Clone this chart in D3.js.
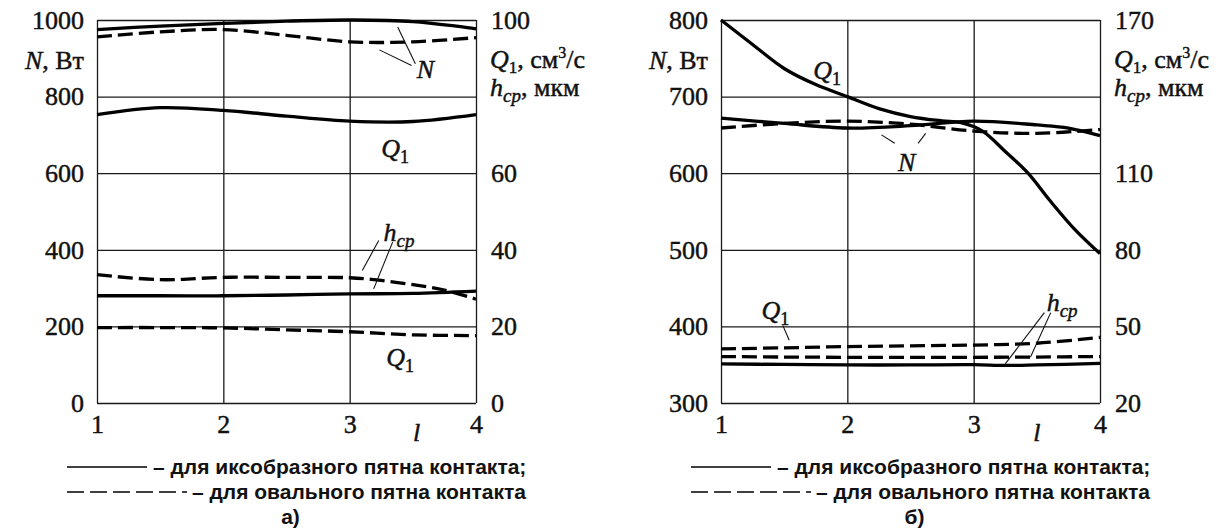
<!DOCTYPE html>
<html><head><meta charset="utf-8">
<script src="https://cdn.jsdelivr.net/npm/d3@7"></script>
<style>
html,body{margin:0;padding:0;background:#fff;}
svg{display:block;}
.serif, .serif text{font-family:"Liberation Serif","DejaVu Serif","Noto Serif","Times New Roman",Times,serif;}
.serif text, text.serif{stroke:#111;stroke-width:0.45px;}
.sans{font-family:"Liberation Sans",Arial,"DejaVu Sans",sans-serif;}
</style></head><body>
<svg id="chart" width="1232" height="532"></svg>
<script>
// ---------- data ----------
const xTicks = [1, 2, 3, 4];
const aLeftTicks = [0, 200, 400, 600, 800, 1000];
const aRightLabels = [0, 20, 40, 60, 100];
const bLeftTicks = [300, 400, 500, 600, 700, 800];
const bRightLabels = [20, 50, 80, 110, 170];

// panel a)
const a_x = [1, 1.5, 2, 2.5, 3, 3.5, 4];
const a_N_solid = [975, 984, 991, 997, 1000, 996, 977];
const a_N_dash = [956, 969, 975, 960, 943, 943, 954];
const a_Q1_solid = [75.3, 77.1, 76.4, 74.9, 73.6, 73.5, 75.3];
const a_Q1_dash = [19.7, 19.7, 19.6, 19.1, 18.6, 17.8, 17.6];
const a_hcp_solid = [28.0, 28.0, 28.0, 28.2, 28.5, 28.6, 29.2];
const a_hcp_dash_x = [1, 1.5, 2, 2.5, 3, 3.25, 3.5, 3.75, 4];
const a_hcp_dash = [33.5, 32.2, 32.8, 32.8, 32.7, 32.0, 30.9, 29.5, 27.1];

// panel б)
const b_x = [1, 1.5, 2, 2.5, 3, 3.5, 4];
const b_N_solid_x = [1, 1.5, 2, 2.5, 3, 3.5, 3.75, 4];
const b_N_solid = [672, 665, 659, 662, 668, 663, 659, 649];
const b_N_dash = [659, 665, 668, 664, 655, 652, 657];
const b_Q1_solid_x = [1, 1.25, 1.5, 1.75, 2, 2.25, 2.5, 2.75, 2.9, 3.07, 3.25, 3.43, 3.6, 3.8, 4];
const b_Q1_solid = [170, 160.4, 151, 144.7, 140, 135.3, 132.2, 130.5, 129.8, 126.5, 118.5, 110, 99.5, 88, 78.5];
const b_Q1_dash = [41.2, 41.6, 42.1, 42.4, 42.7, 43.4, 45.7];
const b_hcp_dash = [38.2, 38.0, 37.9, 37.9, 37.9, 38.0, 38.2];
const b_hcp_solid_x = [1, 1.5, 2, 2.5, 3, 3.25, 3.5, 4];
const b_hcp_solid = [35.3, 35.1, 34.9, 34.9, 35.0, 34.7, 34.9, 35.5];

// annotation labels [x, N-value]
const a_labels = [{t: "N", x: 3.6, y: 872}, {t: "Q1", x: 3.36, y: 665}, {t: "hcp", x: 3.39, y: 446}, {t: "Q1", x: 3.4, y: 119}];
const a_leaders = [[[3.49, 881], [3.235, 922]], [[3.52, 886], [3.38, 982]], [[3.23, 424], [3.10, 346]], [[3.34, 420], [3.19, 298]]];
const b_labels = [{t: "N", x: 2.47, y: 615}, {t: "Q1", x: 1.84, y: 735}, {t: "Q1", x: 1.43, y: 421}, {t: "hcp", x: 3.70, y: 432}];
const b_leaders = [[[2.375, 639], [2.27, 650]], [[2.56, 639], [2.62, 652]], [[1.49, 401], [1.54, 382]], [[3.56, 418], [3.25, 351]], [[3.61, 418], [3.45, 360]]];

const legendSolid = "– для иксобразного пятна контакта;";
const legendDash = "– для овального пятна контакта";

// ---------- drawing ----------
const svg = d3.select("#chart");
const TOP = 20, BOT = 403;

function styleAxisText(sel, size) {
  sel.attr("font-family", null).attr("font-size", size).attr("class", "serif");
  sel.select(".domain").remove();
  sel.selectAll("text").attr("fill", "#111");
}

function addMathLabel(g, x, y, kind) {
  const t = g.append("text").attr("class", "serif").attr("x", x).attr("y", y)
    .attr("font-size", 26).attr("fill", "#111").attr("text-anchor", "middle");
  if (kind === "N") {
    t.append("tspan").attr("font-style", "italic").text("N");
  } else if (kind === "Q1") {
    t.append("tspan").attr("font-style", "italic").text("Q");
    t.append("tspan").attr("font-size", 18).attr("dy", 6).text("1");
  } else if (kind === "hcp") {
    t.append("tspan").attr("font-style", "italic").text("h");
    t.append("tspan").attr("font-style", "italic").attr("font-size", 19).attr("dy", 6).text("cp");
  }
  return t;
}

function panel(cfg) {
  const g = svg.append("g");
  const x = d3.scaleLinear().domain([1, 4]).range([cfg.x0, cfg.x1]);
  const yL = d3.scaleLinear().domain(cfg.lDom).range([BOT, TOP]);
  const yR = d3.scaleLinear().domain(cfg.rDom).range([BOT, TOP]);
  const w = cfg.x1 - cfg.x0;

  // horizontal grid
  g.append("g").attr("transform", `translate(${cfg.x0},0)`)
    .call(d3.axisLeft(yL).tickValues(cfg.lTicks).tickSize(-w).tickFormat(""))
    .call(s => s.select(".domain").remove())
    .selectAll("line").attr("stroke", "#1a1a1a").attr("stroke-width", 1.3);
  // vertical grid / frame
  g.append("g").attr("transform", `translate(0,${BOT})`)
    .call(d3.axisBottom(x).tickValues(xTicks).tickSize(-(BOT - TOP)).tickFormat(""))
    .call(s => s.select(".domain").remove())
    .selectAll("line").attr("stroke", "#1a1a1a").attr("stroke-width", 1.3);

  // tick labels
  g.append("g").attr("transform", `translate(${cfg.x0},0)`)
    .call(d3.axisLeft(yL).tickValues(cfg.lTicks).tickSize(0).tickPadding(13).tickFormat(d3.format("d")))
    .call(s => styleAxisText(s, 26));
  g.append("g").attr("transform", `translate(${cfg.x1},0)`)
    .call(d3.axisRight(yR).tickValues(cfg.rLabels).tickSize(0).tickPadding(15).tickFormat(d3.format("d")))
    .call(s => styleAxisText(s, 26));
  g.append("g").attr("transform", `translate(0,${BOT})`)
    .call(d3.axisBottom(x).tickValues(xTicks).tickSize(0).tickPadding(12).tickFormat(d3.format("d")))
    .call(s => styleAxisText(s, 26));

  // axis titles
  const nt = g.append("text").attr("class", "serif").attr("x", cfg.x0 - 13).attr("y", 69).attr("text-anchor", "end")
    .attr("font-size", 26).attr("fill", "#111");
  nt.append("tspan").attr("font-style", "italic").text("N");
  nt.append("tspan").text(", Вт");

  const qt = g.append("text").attr("class", "serif").attr("x", cfg.x1 + 14).attr("y", 68)
    .attr("font-size", 26).attr("fill", "#111");
  qt.append("tspan").attr("font-style", "italic").text("Q");
  qt.append("tspan").attr("font-size", 17).attr("dy", 5).text("1");
  qt.append("tspan").attr("dy", -5).text(", см");
  qt.append("tspan").attr("font-size", 16).attr("dy", -10).text("3");
  qt.append("tspan").attr("dy", 10).text("/с");

  const ht = g.append("text").attr("class", "serif").attr("x", cfg.x1 + 14).attr("y", 96)
    .attr("font-size", 26).attr("fill", "#111");
  ht.append("tspan").attr("font-style", "italic").text("h");
  ht.append("tspan").attr("font-style", "italic").attr("font-size", 19).attr("dy", 6).text("cp");
  ht.append("tspan").attr("dy", -6).text(", мкм");

  // x axis name "l"
  g.append("text").attr("class", "serif").attr("x", x(cfg.lPos)).attr("y", 441).attr("text-anchor", "middle")
    .attr("font-style", "italic").attr("font-size", 26).attr("fill", "#111").text("l");

  // curves
  const lineGen = (scale) => d3.line()
    .x(d => x(d[0])).y(d => scale(d[1]))
    .curve(d3.curveCatmullRom.alpha(0.5));
  cfg.series.forEach(s => {
    const pts = s.x.map((v, i) => [v, s.y[i]]);
    const sc = s.axis === "L" ? yL : yR;
    g.append("path").attr("d", lineGen(sc)(pts))
      .attr("fill", "none").attr("stroke", "#000").attr("stroke-width", 3.3)
      .attr("stroke-linecap", "butt")
      .attr("stroke-dasharray", s.dash ? "15,6" : null);
  });

  // leaders
  cfg.leaders.forEach(l => {
    g.append("line").attr("x1", x(l[0][0])).attr("y1", yL(l[0][1]))
      .attr("x2", x(l[1][0])).attr("y2", yL(l[1][1]))
      .attr("stroke", "#111").attr("stroke-width", 1.1);
  });
  // labels
  cfg.labels.forEach(l => addMathLabel(g, x(l.x), yL(l.y) + 9, l.t));

  // legend
  const lx = cfg.x0 - 30;
  g.append("line").attr("x1", lx).attr("x2", lx + 80).attr("y1", 467).attr("y2", 467)
    .attr("stroke", "#000").attr("stroke-width", 1.6);
  g.append("text").attr("class", "sans").attr("x", lx + 86).attr("y", 474)
    .attr("font-weight", "bold").attr("font-size", 21).attr("fill", "#111").text(legendSolid);
  g.append("line").attr("x1", lx).attr("x2", lx + 120).attr("y1", 492).attr("y2", 492)
    .attr("stroke", "#000").attr("stroke-width", 1.6).attr("stroke-dasharray", "17,6");
  g.append("text").attr("class", "sans").attr("x", lx + 125).attr("y", 499)
    .attr("font-weight", "bold").attr("font-size", 21).attr("fill", "#111").text(legendDash);
  g.append("text").attr("class", "sans").attr("x", (cfg.x0 + cfg.x1) / 2 + 4).attr("y", 524).attr("text-anchor", "middle")
    .attr("font-weight", "bold").attr("font-size", 21).attr("fill", "#111").text(cfg.tag);
}

panel({
  x0: 97, x1: 476, lDom: [0, 1000], rDom: [0, 100], lTicks: aLeftTicks, rLabels: aRightLabels, lPos: 3.53, tag: "а)",
  series: [
    {x: a_x, y: a_N_solid, axis: "L", dash: false},
    {x: a_x, y: a_N_dash, axis: "L", dash: true},
    {x: a_x, y: a_Q1_solid, axis: "R", dash: false},
    {x: a_x, y: a_Q1_dash, axis: "R", dash: true},
    {x: a_x, y: a_hcp_solid, axis: "R", dash: false},
    {x: a_hcp_dash_x, y: a_hcp_dash, axis: "R", dash: true}
  ],
  labels: a_labels, leaders: a_leaders
});
panel({
  x0: 721, x1: 1100, lDom: [300, 800], rDom: [20, 170], lTicks: bLeftTicks, rLabels: bRightLabels, lPos: 3.5, tag: "б)",
  series: [
    {x: b_N_solid_x, y: b_N_solid, axis: "L", dash: false},
    {x: b_x, y: b_N_dash, axis: "L", dash: true},
    {x: b_Q1_solid_x, y: b_Q1_solid, axis: "R", dash: false},
    {x: b_x, y: b_Q1_dash, axis: "R", dash: true},
    {x: b_x, y: b_hcp_dash, axis: "R", dash: true},
    {x: b_hcp_solid_x, y: b_hcp_solid, axis: "R", dash: false}
  ],
  labels: b_labels, leaders: b_leaders
});
</script>
</body></html>
